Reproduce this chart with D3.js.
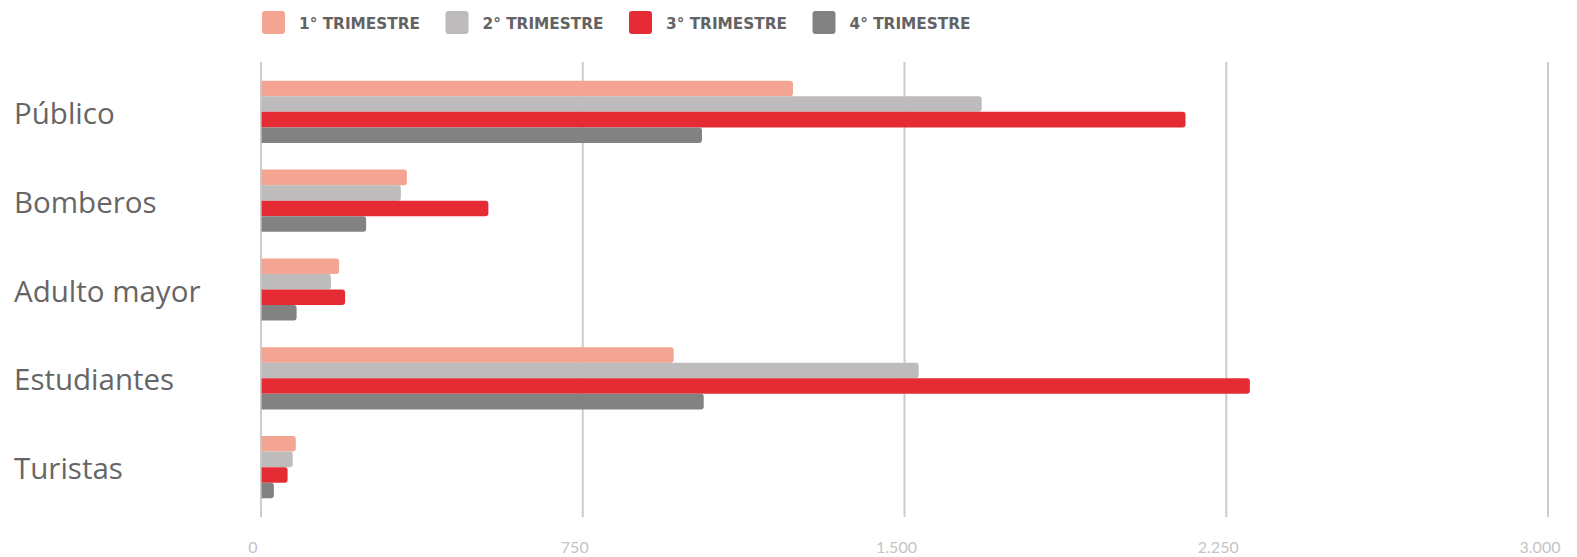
<!DOCTYPE html>
<html lang="es">
<head>
  <meta charset="UTF-8" />
  <title>Trimestres por categoría</title>
  <script src="https://d3js.org/d3.v7.min.js"></script>
  <style>
    html, body { margin: 0; padding: 0; background: #fff; }
    svg { display: block; }
    .cat { font-family: "Open Sans", Lato, sans-serif; font-size: 29.5px; fill: #666; }
    .tick-label { font-family: Lato, "Noto Sans", sans-serif; font-size: 16px; fill: #c4c4c4; }
    .legend text { font-family: "DejaVu Sans", sans-serif; font-weight: bold; font-size: 16px; fill: #636363; }
  </style>
</head>
<body>
  <svg width="1577" height="557"></svg>
  <script>
    // data
    const categories = ["Público", "Bomberos", "Adulto mayor", "Estudiantes", "Turistas"];
    const seriesNames = ["1° TRIMESTRE", "2° TRIMESTRE", "3° TRIMESTRE", "4° TRIMESTRE"];
    const seriesColors = ["#f4a492", "#bdbbbb", "#e52b33", "#828282"];
    const q1 = [1240, 340, 182, 962, 81];
    const q2 = [1680, 326, 163, 1533, 74];
    const q3 = [2155, 530, 196, 2305, 62];
    const q4 = [1028, 245, 83, 1032, 30];
    const tickValues = [0, 750, 1500, 2250, 3000];
    const tickLabels = ["0", "750", "1.500", "2.250", "3.000"];

    const series = [q1, q2, q3, q4];

    const svg = d3.select("svg");

    const x = d3.scaleLinear().domain([0, 3000]).range([261, 1548]);
    const y = d3.scaleBand().domain(categories).range([63, 516])
      .paddingInner(0.3).paddingOuter(0.2);
    const y1 = d3.scaleBand().domain(d3.range(seriesNames.length)).range([0, y.bandwidth()]);

    // grid lines
    svg.append("g")
      .selectAll("line")
      .data(tickValues)
      .join("line")
      .attr("x1", d => x(d)).attr("x2", d => x(d))
      .attr("y1", 62).attr("y2", 517)
      .attr("stroke", "#cccccc")
      .attr("stroke-width", 2);

    // tick labels
    svg.append("g")
      .selectAll("text")
      .data(tickValues)
      .join("text")
      .attr("class", "tick-label")
      .attr("x", d => x(d) - 8)
      .attr("y", 553)
      .attr("text-anchor", "middle")
      .text((d, i) => tickLabels[i]);

    // bars with rounded right end
    function barPath(x0, x1, yTop, h, r) {
      const w = x1 - x0;
      r = Math.min(r, w / 2, h / 2);
      return `M${x0},${yTop}H${x1 - r}Q${x1},${yTop} ${x1},${yTop + r}` +
        `V${yTop + h - r}Q${x1},${yTop + h} ${x1 - r},${yTop + h}H${x0}Z`;
    }

    const groups = svg.append("g")
      .selectAll("g")
      .data(categories)
      .join("g")
      .attr("transform", d => `translate(0,${y(d)})`);

    groups.selectAll("path")
      .data((d, ci) => series.map((s, si) => ({ si, v: s[ci] })))
      .join("path")
      .attr("fill", d => seriesColors[d.si])
      .attr("d", d => barPath(x(0), x(d.v), y1(d.si), y1.bandwidth(), 3));

    // axis line on top, faint
    svg.append("line")
      .attr("x1", x(0)).attr("x2", x(0))
      .attr("y1", 62).attr("y2", 517)
      .attr("stroke", "#cccccc")
      .attr("stroke-width", 2)
      .attr("opacity", 0.6);

    // category labels
    svg.append("g")
      .selectAll("text")
      .data(categories)
      .join("text")
      .attr("class", "cat")
      .attr("x", 14)
      .attr("y", d => y(d) + y.bandwidth() / 2 + 12)
      .text(d => d);

    // legend
    const legend = svg.append("g").attr("class", "legend")
      .selectAll("g")
      .data(seriesNames)
      .join("g")
      .attr("transform", (d, i) => `translate(${262 + i * 183.5},11)`);

    legend.append("rect")
      .attr("width", 23).attr("height", 23)
      .attr("rx", 3)
      .attr("fill", (d, i) => seriesColors[i]);

    legend.append("text")
      .attr("x", 37)
      .attr("y", 18)
      .attr("textLength", 121)
      .attr("lengthAdjust", "spacingAndGlyphs")
      .text(d => d);
  </script>
</body>
</html>
